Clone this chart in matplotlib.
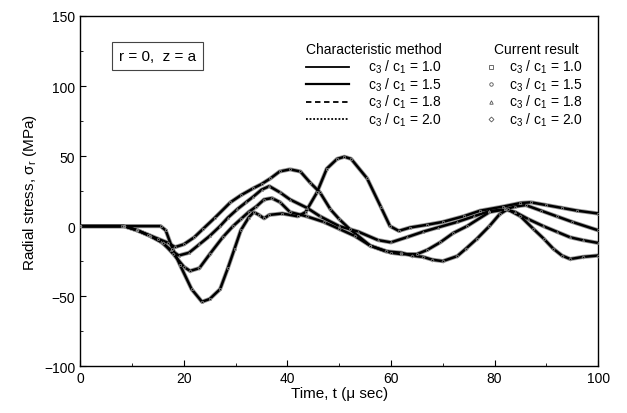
import matplotlib
matplotlib.use("Agg")
import matplotlib.pyplot as plt
from matplotlib.ticker import MultipleLocator

plt.rcParams['font.family'] = ['Liberation Sans', 'DejaVu Sans']
plt.rcParams['mathtext.fontset'] = 'custom'
plt.rcParams['mathtext.rm'] = 'Liberation Sans'
plt.rcParams['mathtext.it'] = 'Liberation Sans'

# ---- data ----
ratios = ["1.0", "1.5", "1.8", "2.0"]

t_a = [0, 8, 15.5, 16.5, 17.8, 19.3, 21.5, 23.5, 25, 27, 28.5, 29.8, 31, 32.5, 33.5, 34.5, 35.5, 36.5,
       39, 42, 43.5, 45.7, 47.6, 49.6, 51, 52.3, 55.4, 58, 59.8, 61.5, 63.7, 67, 70, 74, 77.2, 81.7,
       85, 87, 90, 93, 96, 100]
s_a = [0, 0, 0, -3, -16, -28, -45, -54, -52, -45, -30, -16, -3, 6, 10, 8, 5.5, 8,
       9, 7, 10, 24, 41, 48, 49.5, 48, 34, 14, 0, -3.4, -1, 1, 3, 7, 11, 14,
       16.5, 17, 15, 13, 11, 9]

t_b = [0, 8.5, 11, 13, 15, 17, 18.3, 20, 22, 23.7, 26, 29, 31, 33.4, 35, 36.7, 38.5, 40.5, 42.5,
       44.4, 46.3, 48.3, 50, 52, 56, 60, 62, 65, 67, 69.5, 72, 74.7, 79, 82, 84, 86, 89, 92, 95, 100]
s_b = [0, 0, -3, -6, -9, -12, -15, -13, -8, -2, 6, 17, 22, 27, 30, 34, 39, 40.5, 39,
       31, 24, 12, 5, -2, -14, -19, -20, -20, -17, -11.6, -5, 0, 10, 12, 14, 15, 11, 7, 3, -3]

t_c = [0, 8.5, 11, 13.5, 15.5, 17.5, 19, 21, 23, 25, 27, 28.5, 30.3, 32, 33.4, 35, 36.5, 38.6,
       40.5, 43.8, 46.3, 50, 53.7, 57.5, 60, 63, 66.2, 69, 72.8, 76, 79, 82, 84, 86.5, 89.4,
       92, 94.6, 97, 100]
s_c = [0, 0, -3, -7, -11, -17, -21, -19, -13, -7, 0, 6, 12, 17, 21, 26, 28.5, 24,
       19, 13, 7, 0, -4, -10, -11.6, -8, -4, -1, 3, 7, 10.7, 12, 10, 5, 0,
       -4, -8, -10, -12]

t_d = [0, 8.5, 11, 13.5, 16, 18, 20, 21.2, 23, 25, 27.5, 29.5, 31, 32.5, 34, 35.5, 37, 38.6,
       40.5, 43.7, 47, 50, 53, 56, 59, 62, 64, 66.2, 68, 70, 72.8, 74.5, 76.6, 79, 81, 82.5,
       85, 87.5, 89.5, 91.3, 93, 94.6, 97, 100]
s_d = [0, 0, -3, -7, -12, -20, -29, -32, -30, -20, -8, 0, 5, 10, 14, 19, 20, 17,
       10, 7, 3, -2, -7, -14, -18, -19, -21, -22, -24, -25, -21.4, -16, -9, 0, 8.6, 12,
       7, -2, -9, -16, -21, -23.5, -22, -21]

series_t = [t_a, t_b, t_c, t_d]
series_s = [s_a, s_b, s_c, s_d]

x_ticks = [0, 20, 40, 60, 80, 100]
y_ticks = [-100, -50, 0, 50, 100, 150]

# ---- figure ----
fig = plt.figure(figsize=(6.27, 4.14), dpi=100)
ax = fig.add_axes([0.128, 0.113, 0.826, 0.846])

line_styles = ['-', '-', (0, (3, 2)), (0, (1, 1))]
markers = ['s', 'o', '^', 'D']

for t, s, mk in zip(series_t, series_s, markers):
    ax.plot(t, s, color='#9a9a9a', linestyle='-', linewidth=3.0, solid_joinstyle='round',
            solid_capstyle='round', zorder=2)
    ax.plot(t, s, color='black', linestyle='-', linewidth=1.8, solid_joinstyle='round',
            solid_capstyle='round', zorder=3)
    ax.plot(t, s, linestyle='none', marker=mk, markersize=1.6, markerfacecolor='none',
            markeredgecolor='#8a8a8a', markeredgewidth=0.5, zorder=4)

ax.set_xlim(0, 100)
ax.set_ylim(-100, 150)
ax.set_xticks(x_ticks)
ax.set_yticks(y_ticks)
ax.xaxis.set_minor_locator(MultipleLocator(10))
ax.yaxis.set_minor_locator(MultipleLocator(25))
ax.tick_params(axis='both', which='both', direction='in', top=False, right=False,
               labelsize=10, color='black')
ax.tick_params(which='major', length=4)
ax.tick_params(which='minor', length=2.5)
for sp in ax.spines.values():
    sp.set_linewidth(1.0)

ax.set_xlabel("Time, t (\u03bc sec)", fontsize=11, labelpad=1)
ax.set_ylabel("Radial stress, \u03c3$_r$ (MPa)", fontsize=11, labelpad=4)

# annotation box
ax.text(0.075, 0.885, "r = 0,  z = a", transform=ax.transAxes, fontsize=11,
        ha='left', va='center',
        bbox=dict(boxstyle='square,pad=0.45', facecolor='white', edgecolor='#444444', linewidth=0.8))

# custom legend
hy = 0.905
ax.text(0.566, hy, "Characteristic method", transform=ax.transAxes, fontsize=10,
        ha='center', va='center')
ax.text(0.88, hy, "Current result", transform=ax.transAxes, fontsize=10,
        ha='center', va='center')
row_y = [0.855, 0.805, 0.755, 0.705]
for i, r in enumerate(ratios):
    y = row_y[i]
    ax.plot([0.435, 0.518], [y, y], transform=ax.transAxes, color='black',
            linestyle=line_styles[i], linewidth=1.3 if i != 1 else 1.6)
    ax.text(0.555, y, "c$_3$ / c$_1$ = " + r, transform=ax.transAxes, fontsize=10,
            ha='left', va='center')
    ax.plot([0.793], [y], transform=ax.transAxes, linestyle='none', marker=markers[i],
            markersize=2.5, markerfacecolor='white', markeredgecolor='#555555',
            markeredgewidth=0.6)
    ax.text(0.827, y, "c$_3$ / c$_1$ = " + r, transform=ax.transAxes, fontsize=10,
            ha='left', va='center')

fig.savefig("out.png", dpi=100)
